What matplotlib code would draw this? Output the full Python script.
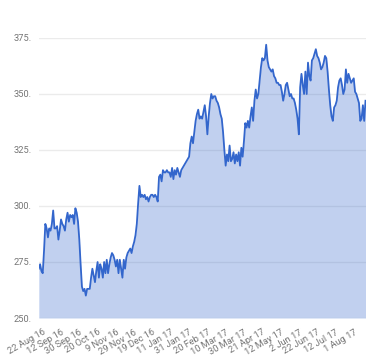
import matplotlib
matplotlib.use("Agg")
import matplotlib.pyplot as plt

plt.rcParams['font.family'] = ['Roboto', 'DejaVu Sans']

# Daily closing values (trading days)
values = [
    272, 274, 271, 270, 280, 292, 290, 286, 290, 289,
    292, 298, 290, 290, 291, 285, 289, 294, 292, 291,
    289, 294, 297, 293, 296, 295, 296, 292, 299, 297,
    293, 285, 274, 264, 262, 263, 260, 263, 263, 263,
    268, 272, 269, 266, 271, 275, 268, 274, 272, 268,
    275, 270, 276, 270, 274, 277, 279, 278, 276, 273,
    276, 270, 276, 272, 268, 276, 272, 277, 279, 280,
    281, 279, 282, 284, 287, 292, 301, 309, 304, 305,
    304, 305, 303, 304, 302, 304, 305, 305, 304, 305,
    304, 302, 313, 314, 311, 316, 315, 315, 316, 315,
    315, 313, 317, 312, 316, 314, 317, 315, 313, 316,
    317, 318, 319, 320, 321, 322, 328, 331, 328, 333,
    338, 341, 343, 339, 340, 339, 342, 345, 340, 332,
    340, 346, 350, 348, 349, 349, 347, 346, 344, 341,
    339, 333, 325, 318, 323, 320, 327, 320, 321, 324,
    319, 323, 320, 324, 318, 326, 322, 329, 337, 335,
    338, 335, 340, 344, 338, 347, 352, 348, 350, 356,
    362, 366, 365, 366, 372, 365, 362, 361, 360, 361,
    358, 357, 355, 355, 354, 354, 351, 347, 350, 354,
    355, 352, 349, 350, 348, 348, 346, 343, 339, 332,
    353, 359, 354, 350, 360, 350, 364, 358, 356, 365,
    366, 368, 370, 367, 366, 364, 361, 362, 364, 367,
    366, 360, 352, 345, 340, 338, 344, 345, 347, 353,
    356, 357, 354, 350, 352, 361, 355, 359, 357, 355,
    356, 357, 351, 350, 348, 346, 338, 339, 345, 338,
    347,
]

tick_labels = ['22 Aug 16', '12 Sep 16', '30 Sep 16', '20 Oct 16', '9 Nov 16',
               '29 Nov 16', '19 Dec 16', '11 Jan 17', '31 Jan 17', '20 Feb 17',
               '10 Mar 17', '30 Mar 17', '21 Apr 17', '12 May 17', '2 Jun 17',
               '22 Jun 17', '12 Jul 17', '1 Aug 17']
tick_index = [3 + 14 * k for k in range(len(tick_labels))]

y_ticks = [250, 275, 300, 325, 350, 375]
y_tick_labels = ['250.', '275.', '300.', '325.', '350.', '375.']

line_color = '#3366cc'
fill_color = '#3366cc'

fig = plt.figure(figsize=(3.8, 3.6), dpi=100)
ax = fig.add_axes([38.8 / 380, 1 - 318 / 360, (365.5 - 38.8) / 380, (318 - 38) / 360])

x = list(range(len(values)))
ax.fill_between(x, values, 250, color=fill_color, alpha=0.3, linewidth=0, zorder=2)
ax.plot(x, values, color=line_color, linewidth=1.3, zorder=3)

ax.set_xlim(0, len(values) - 1)
ax.set_ylim(250, 375)
ax.set_yticks(y_ticks)
ax.set_yticklabels(y_tick_labels)
ax.set_xticks(tick_index)
ax.set_xticklabels(tick_labels, rotation=30, ha='right', rotation_mode='anchor')

for s in ax.spines.values():
    s.set_visible(False)
ax.tick_params(axis='both', length=0, labelsize=6.7, labelcolor='#757575')
ax.tick_params(axis='y', pad=5)
ax.tick_params(axis='x', pad=7)
ax.grid(axis='y', color='#ebebeb', linewidth=1, zorder=1)
ax.set_axisbelow(True)

fig.savefig('out.png', dpi=100)
